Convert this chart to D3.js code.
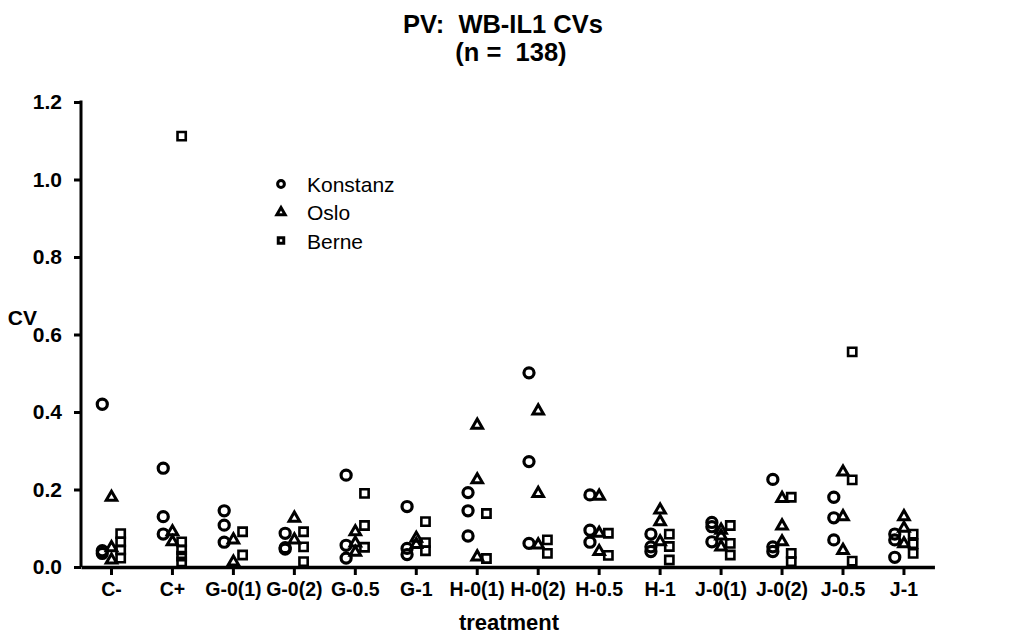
<!DOCTYPE html>
<html><head><meta charset="utf-8">
<script src="https://cdn.jsdelivr.net/npm/d3@7"></script>
<style>body{margin:0;background:#fff}svg{display:block}text{font-family:"Liberation Sans",Arial,sans-serif;white-space:pre}</style>
</head><body><div id="chart"></div>
<script>
const categories = ["C-","C+","G-0(1)","G-0(2)","G-0.5","G-1","H-0(1)","H-0(2)","H-0.5","H-1","J-0(1)","J-0(2)","J-0.5","J-1"];
const konstanz = [
  [0.42,0.042,0.035],[0.255,0.13,0.085],[0.145,0.108,0.064],[0.087,0.05,0.046],[0.237,0.056,0.023],
  [0.156,0.048,0.032],[0.192,0.145,0.08],[0.501,0.272,0.061],[0.186,0.095,0.064],[0.085,0.052,0.04],
  [0.115,0.104,0.065],[0.226,0.052,0.04],[0.18,0.127,0.07],[0.085,0.07,0.025]
];
const oslo = [
  [0.18,0.05,0.018],[0.091,0.065],[0.07,0.013],[0.126,0.07],[0.091,0.062,0.038],
  [0.074,0.058],[0.366,0.225,0.026],[0.403,0.19,0.057],[0.183,0.087,0.04],[0.147,0.117,0.065],
  [0.095,0.08,0.052],[0.177,0.106,0.065],[0.245,0.13,0.043],[0.13,0.1,0.06]
];
const berne = [
  [0.086,0.065,0.044,0.023],[1.112,0.065,0.044,0.028,0.013],[0.091,0.031],[0.091,0.052,0.014],[0.19,0.107,0.051],
  [0.117,0.063,0.042],[0.138,0.022],[0.07,0.035],[0.087,0.03],[0.085,0.053,0.018],
  [0.107,0.061,0.031],[0.18,0.035,0.014],[0.555,0.225,0.015],[0.085,0.06,0.035]
];
const yTicks = [0,0.2,0.4,0.6,0.8,1.0,1.2];
const seriesNames = ["Konstanz","Oslo","Berne"];

const W=1010,H=635;
const svg=d3.select("#chart").append("svg").attr("width",W).attr("height",H);
const x0=81, step=60.96;
const x=d3.scaleBand().domain(categories).range([x0,x0+14*step]).padding(0);
const y=d3.scaleLinear().domain([0,1.2]).range([567,102]);
const offsets=[-9.2,0,9.2];

// axes
const yAxis=d3.axisLeft(y).tickValues(yTicks).tickFormat(d3.format(".1f")).tickSize(7).tickPadding(12);
const gy=svg.append("g").attr("transform",`translate(${x0},0)`).call(yAxis);
gy.select(".domain").attr("stroke","#000").attr("stroke-width",3).attr("d","M0,100.5V567");
gy.selectAll(".tick line").attr("stroke","#000").attr("stroke-width",3);
gy.selectAll(".tick text").attr("font-size",21).attr("font-weight","bold").attr("fill","#000");

const xAxis=d3.axisBottom(x).tickSize(8).tickPadding(7).tickSizeOuter(0);
const gx=svg.append("g").attr("transform","translate(0,567)").call(xAxis);
gx.select(".domain").attr("stroke","#000").attr("stroke-width",3.5);
gx.selectAll(".tick line").attr("stroke","#000").attr("stroke-width",3);
gx.selectAll(".tick text").attr("font-size",19.5).attr("font-weight","bold").attr("fill","#000");

const sym=[d3.symbolCircle,d3.symbolTriangle,d3.symbolSquare];
const sizes=[80,48,68];
const sw=[3.2,3,2.6];
[konstanz,oslo,berne].forEach((ser,si)=>{
  const pts=[];
  ser.forEach((vals,ci)=>vals.forEach(v=>pts.push({c:categories[ci],v})));
  svg.append("g").selectAll("path").data(pts).join("path")
    .attr("d",d3.symbol(sym[si],sizes[si]))
    .attr("transform",d=>`translate(${x(d.c)+x.bandwidth()/2+offsets[si]},${y(d.v)})`)
    .attr("fill","none").attr("stroke","#000").attr("stroke-width",sw[si]);
});

// legend
const lg=svg.append("g");
seriesNames.forEach((n,i)=>{
  const yy=184+i*28.3;
  lg.append("path").attr("d",d3.symbol(sym[i],[36,30,30][i])).attr("transform",`translate(281,${yy})`)
    .attr("fill","none").attr("stroke","#000").attr("stroke-width",3);
  lg.append("text").attr("x",307).attr("y",yy+8).attr("font-size",21).text(n);
});

svg.append("text").attr("x",503).attr("y",33).attr("text-anchor","middle").attr("font-size",25.5).attr("font-weight","bold").text("PV:  WB-IL1 CVs");
svg.append("text").attr("x",511).attr("y",61).attr("text-anchor","middle").attr("font-size",25.5).attr("font-weight","bold").text("(n =  138)");
svg.append("text").attr("x",509).attr("y",630).attr("text-anchor","middle").attr("font-size",22).attr("font-weight","bold").text("treatment");
svg.append("text").attr("x",37).attr("y",325).attr("text-anchor","end").attr("font-size",21).attr("font-weight","bold").text("CV");
</script></body></html>
